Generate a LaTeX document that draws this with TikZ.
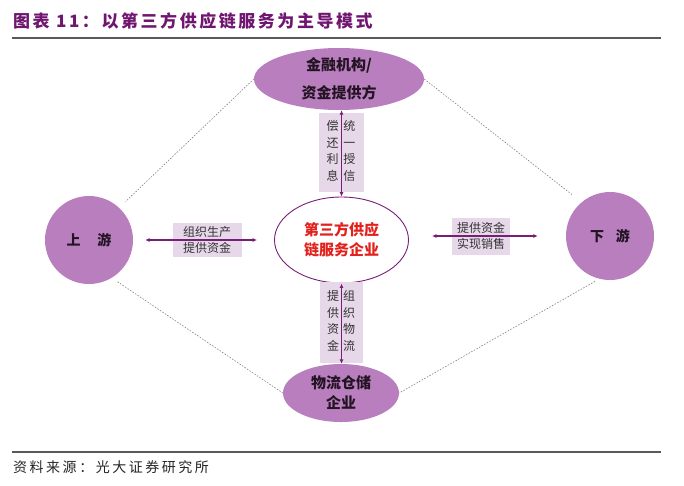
\documentclass[tikz,border=0pt]{standalone}
\usepackage{fontspec}
\setmainfont{Noto Sans CJK SC}
\usetikzlibrary{shapes.geometric,arrows.meta}
\definecolor{violetfill}{RGB}{185,126,190}
\definecolor{lilacbox}{RGB}{231,216,233}
\definecolor{plum}{RGB}{120,30,120}
\definecolor{titleplum}{RGB}{112,22,112}
\definecolor{textred}{RGB}{226,32,28}
\definecolor{darkink}{RGB}{35,20,35}
\begin{document}
\begin{tikzpicture}[x=1pt,y=-1pt,
  party/.style={draw=none, fill=violetfill, ellipse, inner sep=0pt, text=darkink, align=center, font=\fontsize{15}{20}\selectfont\bfseries},
  hub/.style={draw=none, fill=violetfill, circle, inner sep=0pt, minimum size=88pt, text=darkink, font=\fontsize{14}{14}\selectfont\bfseries},
  core/.style={draw=plum, line width=0.9pt, fill=white, ellipse, inner sep=0pt, text=textred, align=center, font=\fontsize{15}{20}\selectfont\bfseries},
  note/.style={fill=lilacbox, inner sep=0pt, text=black!80, align=center, font=\fontsize{12}{16.5}\selectfont},
  flow/.style={draw=plum, line width=1.1pt, {Latex[length=4.5pt,width=4pt]}-{Latex[length=4.5pt,width=4pt]}},
  link/.style={draw=black!50, dash pattern=on 1.5pt off 1.5pt, line width=0.6pt}]
\fill[white] (0,0) rectangle (684,485);
\useasboundingbox (0,0) rectangle (684,485);

% title and rules
\node[anchor=west, inner sep=0pt, text=titleplum, font=\fontsize{17}{17}\selectfont\bfseries\addfontfeature{LetterSpace=15}] (title) at (13,21) {图表 11：以第三方供应链服务为主导模式};
\draw[black!65, line width=1.2pt] (12,38) -- (661,38);
\draw[black!65, line width=1.2pt] (12,452) -- (661,452);
\node[anchor=west, inner sep=0pt, text=black!85, font=\fontsize{14}{14}\selectfont\addfontfeature{LetterSpace=18}] (source) at (13,467) {资料来源：光大证券研究所};

% parties
\node[party, minimum width=170pt, minimum height=62pt, font=\fontsize{15}{28}\selectfont\bfseries] (bank) at (339,79) {金融机构/\\资金提供方};
\node[hub] (up) at (89,240) {上\hspace{1.2em}游};
\node[hub] (dn) at (610,236) {下\hspace{0.85em}游};
\node[core, minimum width=134pt, minimum height=86pt] (core) at (341.5,240) {第三方供应\\链服务企业};
\node[party, minimum width=116pt, minimum height=58pt] (store) at (341,393) {物流仓储\\企业};

% labels
\node[note, minimum width=45pt, minimum height=79pt] (credit) at (341,152) {\begin{tabular}{@{}c@{\hspace{5pt}}c@{}}偿&统\\还&一\\利&授\\息&信\end{tabular}};
\node[note, minimum width=43pt, minimum height=81pt] (logi) at (341,322) {\begin{tabular}{@{}c@{\hspace{4pt}}c@{}}提&组\\供&织\\资&物\\金&流\end{tabular}};
\node[note, minimum width=69pt, minimum height=34pt] (make) at (207,240) {组织生产\\提供资金};
\node[note, minimum width=58pt, minimum height=37pt] (sell) at (481,236) {提供资金\\实现销售};

% arrows
\path[flow] (core.north) -- (core.north |- bank.south);
\path[flow] (core.south) -- (core.south |- store.north);
\path[flow, shorten <=12pt, shorten >=17pt] (up.east) -- (core.west);
\path[flow, shorten <=23pt, shorten >=28pt] (core.east |- dn) -- (dn.west);

% dashed links
\path[link, shorten >=9pt] (bank.west) -- (up.47);
\path[link, shorten >=11pt] (bank.east) -- (dn.130);
\path[link, shorten <=7pt] (up.-59) -- (store.west);
\path[link, shorten <=5pt] (dn.-104) -- (store.east);
\end{tikzpicture}
\end{document}
